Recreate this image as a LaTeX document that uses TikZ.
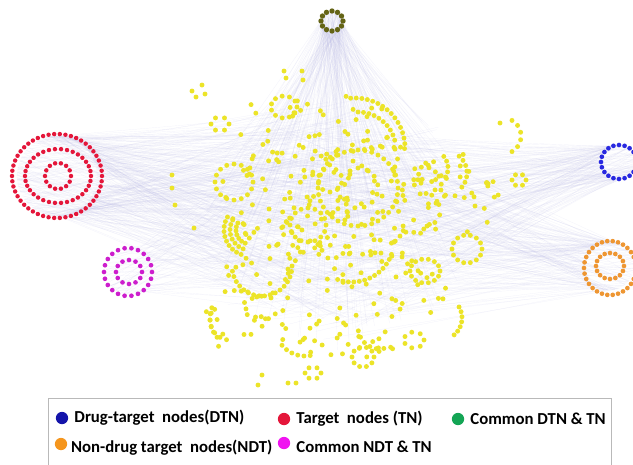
\documentclass[tikz,border=0pt]{standalone}
\usepackage{fontspec}
\setmainfont{Carlito}
\usetikzlibrary{positioning}
\definecolor{nodeyellow}{RGB}{236,228,40}
\definecolor{nodered}{RGB}{228,22,58}
\definecolor{nodeblue}{RGB}{40,40,225}
\definecolor{nodeorange}{RGB}{238,150,50}
\definecolor{nodemagenta}{RGB}{205,30,205}
\definecolor{nodeolive}{RGB}{100,100,22}
\definecolor{legblue}{RGB}{20,20,170}
\definecolor{leggreen}{RGB}{20,165,85}
\definecolor{legorange}{RGB}{245,150,30}
\definecolor{legmagenta}{RGB}{240,20,240}
\definecolor{edgecol}{RGB}{190,190,235}
% ring of n dots: cx, cy, rx, ry, n
\newcommand{\dotring}[5]{%
  \foreach \k in {1,...,#5}
    \fill ({#1+#3*cos(360/#5*\k)},{#2+#4*sin(360/#5*\k)}) circle[radius=\dotsize];}
% arc of n dots: cx, cy, r, start, end, n
\newcommand{\dotarc}[6]{%
  \foreach \k in {0,...,#6}
    \fill ({#1+#3*cos(#4+(#5-#4)/#6*\k)},{#2+#3*sin(#4+(#5-#4)/#6*\k)}) circle[radius=\dotsize];}
% random cloud of n dots: cx, cy, rx, ry, n
\newcommand{\dotcloud}[5]{%
  \foreach \k in {1,...,#5}{
    \pgfmathsetmacro\ang{360*rnd}
    \pgfmathsetmacro\rad{sqrt(rnd)}
    \fill ({#1+#3*\rad*cos(\ang)},{#2+#4*\rad*sin(\ang)}) circle[radius=\dotsize];}}
% n faint edges from a hub to a cloud: hx, hy, hr, cx, cy, rx, ry, n
\newcommand{\edgefan}[8]{%
  \foreach \k in {1,...,#8}{
    \pgfmathsetmacro\hang{360*rnd}
    \pgfmathsetmacro\ang{360*rnd}
    \pgfmathsetmacro\rad{sqrt(rnd)}
    \draw[edge] ({#1+#3*cos(\hang)},{#2+#3*sin(\hang)}) --
      ({#4+#6*\rad*cos(\ang)},{#5+#7*\rad*sin(\ang)});}}
\newcommand{\dotsize}{2.1pt}

\begin{document}
\begin{tikzpicture}[
  x=0.03cm, y=-0.03cm,
  edge/.style={draw=edgecol, line width=0.15pt, opacity=0.22},
  legdot/.style={circle, inner sep=0pt, minimum size=10.5pt},
  legtext/.style={anchor=west, inner sep=0pt, font=\fontsize{14.3}{16}\selectfont\bfseries}
]
  \useasboundingbox (0,0) rectangle (633,464);
  \fill[white] (0,0) rectangle (633,464);
  \pgfmathsetseed{4711}

  % faint edges
  \edgefan{57}{176}{40}{340}{210}{150}{110}{320}
  \edgefan{332}{22}{10}{340}{220}{140}{130}{230}
  \edgefan{618}{162}{17}{340}{220}{150}{110}{160}
  \edgefan{610}{266}{24}{330}{230}{150}{110}{160}
  \edgefan{128}{272}{22}{330}{220}{130}{100}{60}

  % hub clusters
  \begin{scope}[fill=nodeolive]
    \renewcommand{\dotsize}{2.3pt}
    \dotring{332}{21}{11}{10}{12}
  \end{scope}
  \begin{scope}[fill=nodered]
    \renewcommand{\dotsize}{1.9pt}
    \dotring{57}{176}{45}{42}{50}
    \dotring{58}{176}{33}{27}{34}
    \dotring{58}{176}{13}{13}{14}
  \end{scope}
  \begin{scope}[fill=nodeblue]
    \renewcommand{\dotsize}{2pt}
    \dotring{619}{162}{18}{17}{20}
  \end{scope}
  \begin{scope}[fill=nodeorange]
    \renewcommand{\dotsize}{2pt}
    \dotring{610}{268}{26}{27}{30}
    \dotring{610}{266}{14}{13}{16}
  \end{scope}
  \begin{scope}[fill=nodemagenta]
    \renewcommand{\dotsize}{2pt}
    \dotring{128}{272}{24}{24}{22}
    \dotring{129}{272}{13}{12}{12}
  \end{scope}

  % yellow nodes
  \begin{scope}[fill=nodeyellow]
    \dotring{358}{188}{40}{38}{36}
    \dotring{234}{182}{19}{18}{16}
    \dotring{308}{225}{18}{17}{16}
    \dotring{467}{249}{15}{14}{14}
    \dotring{425}{271}{15}{12}{14}
    \dotring{284}{107}{13}{11}{11}
    \dotring{363}{357}{11}{10}{10}
    \dotring{519}{180}{7}{6}{6}
    \dotring{220}{124}{9}{7}{6}
    \dotring{414}{340}{10}{8}{7}
    \dotring{313}{373}{8}{6}{6}
    \dotarc{262}{266}{30}{0}{170}{16}
    \dotarc{355}{148}{50}{-95}{-5}{14}
    \dotarc{358}{150}{38}{-90}{-15}{9}
    \dotarc{352}{240}{42}{20}{110}{12}
    \dotarc{250}{230}{26}{110}{210}{9}
    \dotarc{250}{230}{20}{110}{210}{7}
    \dotarc{250}{230}{14}{110}{210}{6}
    \dotarc{430}{168}{18}{-40}{30}{4}
    \dotarc{445}{173}{22}{-50}{40}{6}
    \dotarc{503}{136}{18}{-60}{60}{5}
    \dotarc{440}{318}{22}{-30}{50}{6}
    \dotarc{240}{318}{30}{140}{200}{5}
    \dotarc{230}{320}{20}{100}{200}{5}
    \dotarc{305}{326}{30}{80}{140}{5}
    \dotarc{380}{327}{22}{100}{170}{4}
    \dotarc{330}{180}{12}{-60}{240}{8}
    \dotarc{358}{188}{20}{-90}{180}{10}
    \fill (284,71) circle[radius=\dotsize] (302,71) circle[radius=\dotsize]
          (286,78) circle[radius=\dotsize] (303,80) circle[radius=\dotsize]
          (192,91) circle[radius=\dotsize] (202,85) circle[radius=\dotsize]
          (196,97) circle[radius=\dotsize] (205,94) circle[radius=\dotsize]
          (262,375) circle[radius=\dotsize] (258,385) circle[radius=\dotsize]
          (288,383) circle[radius=\dotsize] (296,383) circle[radius=\dotsize]
          (172,175) circle[radius=\dotsize] (172,188) circle[radius=\dotsize]
          (175,205) circle[radius=\dotsize] (194,228) circle[radius=\dotsize]
          (475,206) circle[radius=\dotsize] (500,123) circle[radius=\dotsize];
    \dotcloud{335}{195}{115}{65}{190}
    \dotcloud{345}{300}{105}{60}{95}
    \dotcloud{305}{115}{85}{30}{22}
    \dotcloud{455}{195}{45}{45}{30}
    \dotcloud{230}{300}{40}{50}{25}
  \end{scope}

  % legend
  \draw[gray!55, line width=0.8pt] (48,398) rectangle (611,470);
  \node[legdot, fill=legblue] (dtndot) at (62,418) {};
  \node[legtext, right=5pt of dtndot] (dtn) {Drug-target\ \ nodes(DTN)};
  \node[legdot, fill=nodered] (tndot) at (284,419) {};
  \node[legtext, right=5pt of tndot] (tn) {Target\ \ nodes (TN)};
  \node[legdot, fill=leggreen] (comdot) at (458,419) {};
  \node[legtext, right=5pt of comdot] (com) {Common DTN \& TN};
  \node[legdot, fill=legorange] (ndtdot) at (61,444) {};
  \node[legtext, right=3pt of ndtdot, yshift=-3pt] (ndt) {Non-drug target\ \ nodes(NDT)};
  \node[legdot, fill=legmagenta] (comndtdot) at (284,443) {};
  \node[legtext, right=5pt of comndtdot, yshift=-3pt] (comndt) {Common NDT \& TN};
\end{tikzpicture}
\end{document}
